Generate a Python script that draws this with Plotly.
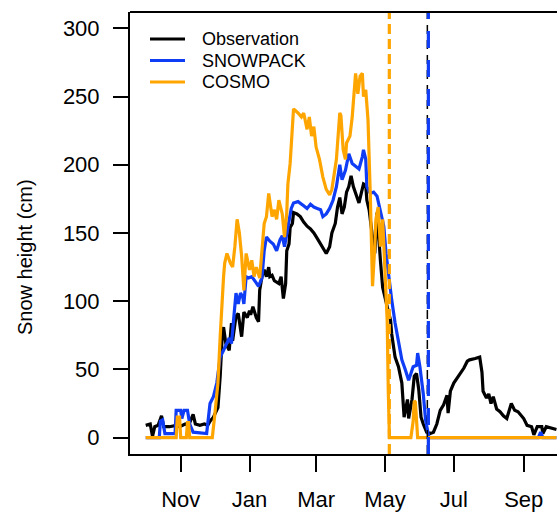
import datetime as dt
import plotly.graph_objects as go

# Hydrological year starting 1 October
season_start = dt.datetime(2017, 10, 1)

# Observed snow height (day of season, cm)
obs_day = [0, 4, 6, 8, 11, 14, 16, 21, 27, 30, 35, 38, 42, 44, 48, 52, 55, 57, 60, 62,
           64, 66, 68, 69, 71, 74, 76, 77, 80, 82, 84, 85, 87, 90, 92, 93, 95, 98, 100, 101,
           103, 105, 107, 109, 110, 112, 114, 116, 118, 120, 122, 124, 125, 127, 128, 130, 131, 134, 137, 140,
           143, 146, 149, 152, 155, 157, 160, 163, 165, 168, 170, 172, 174, 176, 178, 180, 182, 184, 186, 189,
           191, 193, 195, 196, 198, 200, 202, 203, 205, 208, 210, 214, 217, 218, 221, 224, 227, 229, 232, 233,
           236, 238, 240, 242, 244, 246, 249, 252, 255, 258, 261, 264, 267, 268, 270, 273, 277, 282, 285, 287,
           292, 296, 298, 299, 302, 304, 306, 308, 311, 314, 317, 320, 324, 327, 330, 335, 338, 342, 344, 347,
           351, 352, 355, 360, 363, 364]
obs_cm = [9, 10, 1, 8, 9, 16, 8, 8, 9, 8, 10, 9, 17, 10, 9, 10, 9, 12, 15, 18,
          22, 45, 78, 81, 69, 64, 84, 71, 89, 91, 79, 74, 92, 88, 93, 90, 96, 88, 85, 108,
          118, 123, 118, 125, 118, 119, 115, 114, 113, 118, 102, 113, 137, 142, 154, 157, 165, 164, 162, 158,
          155, 153, 150, 146, 142, 139, 135, 140, 150, 157, 169, 176, 164, 169, 180, 184, 192, 184, 179, 172,
          179, 186, 185, 174, 167, 152, 140, 135, 165, 130, 110, 96, 86, 76, 59, 52, 40, 15, 28, 14,
          28, 45, 47, 35, 15, 10, 4, 3, 4, 10, 20, 24, 31, 18, 34, 40, 45, 51, 56, 57,
          58, 59, 48, 34, 29, 32, 25, 30, 21, 19, 16, 14, 25, 20, 19, 14, 9, 8, 2, 8,
          8, 3, 8, 7, 6, 6]

# SNOWPACK simulation
snp_day = [0, 12, 13, 15, 17, 26, 27, 31, 32, 34, 37, 39, 42, 54, 57, 60, 63, 66, 69, 72,
           74, 76, 79, 80, 82, 84, 86, 87, 89, 91, 94, 97, 100, 103, 105, 107, 110, 113, 116, 119,
           121, 123, 126, 129, 131, 135, 140, 143, 146, 149, 152, 155, 157, 160, 163, 166, 169, 172, 174, 177,
           180, 183, 186, 189, 192, 193, 195, 196, 199, 202, 205, 208, 211, 213, 215, 218, 221, 224, 227, 230,
           233, 235, 237, 240, 241, 243, 246, 248, 250, 251, 348, 349, 350, 352, 364]
snp_cm = [0, 0, 12, 13, 3, 3, 20, 20, 14, 20, 20, 10, 4, 3, 25, 30, 40, 59, 64, 69,
          73, 69, 101, 106, 98, 106, 103, 98, 118, 117, 118, 114, 111, 117, 137, 147, 144, 142, 137, 145,
          148, 140, 155, 168, 172, 173, 170, 168, 171, 169, 168, 167, 162, 164, 168, 174, 184, 200, 189, 196,
          208, 201, 199, 197, 206, 211, 204, 184, 179, 180, 177, 167, 155, 135, 120, 101, 84, 69, 57, 50,
          42, 47, 52, 53, 62, 52, 32, 13, 2, 0, 0, 3, 4, 0, 0]

# COSMO simulation
cos_day = [0, 27, 28, 30, 31, 36, 37, 38, 39, 59, 61, 64, 66, 67, 69, 70, 72, 75, 77, 79,
           81, 83, 85, 87, 89, 92, 94, 96, 98, 101, 103, 105, 107, 109, 112, 114, 116, 118, 121, 123,
           125, 126, 128, 130, 131, 135, 138, 140, 143, 145, 147, 149, 151, 154, 157, 160, 163, 165, 167, 169,
           172, 173, 175, 177, 178, 181, 183, 185, 186, 188, 190, 192, 193, 195, 197, 199, 200, 201, 203, 204,
           206, 207, 208, 210, 211, 213, 214, 215, 216, 235, 237, 238, 239, 241, 364]
cos_cm = [0, 0, 15, 15, 0, 0, 11, 11, 0, 0, 15, 40, 74, 93, 118, 128, 135, 128, 125, 140,
          160, 150, 133, 108, 135, 123, 130, 118, 125, 117, 140, 157, 162, 179, 162, 167, 160, 174, 164, 147,
          165, 186, 201, 225, 241, 238, 235, 238, 226, 235, 221, 228, 213, 204, 191, 182, 178, 182, 194, 204,
          238, 236, 211, 204, 216, 221, 235, 262, 267, 252, 265, 267, 250, 255, 233, 179, 142, 111, 140, 160,
          169, 147, 140, 160, 140, 111, 86, 33, 0, 0, 12, 27, 26, 0, 0]

# Snow melt-out days (day of season)
meltout_obs = 249.6
meltout_snp = 250.5
meltout_cos = 215.9

month_ticks = ["2017-11-01", "2018-01-01", "2018-03-01", "2018-05-01", "2018-07-01", "2018-09-01"]
month_labels = ["Nov", "Jan", "Mar", "May", "Jul", "Sep"]
y_ticks = [0, 50, 100, 150, 200, 250, 300]

BLACK = "#000000"
BLUE = "#0f3cf5"
ORANGE = "#ffa500"
FONT = "Liberation Sans, Arial, sans-serif"


def to_date(day):
    return season_start + dt.timedelta(days=day)


fig = go.Figure()

series = [
    ("Observation", obs_day, obs_cm, BLACK),
    ("SNOWPACK", snp_day, snp_cm, BLUE),
    ("COSMO", cos_day, cos_cm, ORANGE),
]
for name, days, cm, col in series:
    fig.add_trace(go.Scatter(
        x=[to_date(d) for d in days], y=cm, mode="lines", name=name,
        line=dict(color=col, width=3.2), showlegend=False,
    ))

y_lo, y_hi = -12, 312

# melt-out markers, drawn bottom to top across the whole panel
for day, col, width, dash in [
    (meltout_obs, BLACK, 1.5, "9px,6px"),
    (meltout_snp, BLUE, 3.2, "17px,12px"),
    (meltout_cos, ORANGE, 3.2, "10px,5px"),
]:
    fig.add_trace(go.Scatter(
        x=[to_date(day), to_date(day)], y=[y_lo, y_hi], mode="lines",
        line=dict(color=col, width=width, dash=dash), showlegend=False,
        hoverinfo="skip",
    ))

W, H = 557, 512
L, R, T, B = 130, 0, 12, 58
pw, ph = W - L - R, H - T - B


def px_x(x):
    return (x - L) / pw


def px_y(y):
    return (H - B - y) / ph


# legend drawn inside the panel
shapes = []
annotations = []
for i, (name, _, _, col) in enumerate(series):
    yy = 39 + i * 21.5
    shapes.append(dict(type="line", xref="paper", yref="paper",
                       x0=px_x(150), x1=px_x(185), y0=px_y(yy), y1=px_y(yy),
                       line=dict(color=col, width=3.2)))
    annotations.append(dict(text=name, xref="paper", yref="paper",
                            x=px_x(200), y=px_y(yy), xanchor="left", yanchor="middle",
                            showarrow=False, font=dict(size=18, color=BLACK, family=FONT)))

# top frame edge
shapes.append(dict(type="line", xref="paper", yref="paper", x0=0, x1=1, y0=1, y1=1,
                   line=dict(color=BLACK, width=2)))

annotations.append(dict(text="Snow height (cm)", xref="paper", yref="paper",
                        x=px_x(25), y=px_y(257), textangle=-90,
                        xanchor="center", yanchor="middle", showarrow=False,
                        font=dict(size=20, color=BLACK, family=FONT)))

fig.update_layout(
    width=W, height=H,
    margin=dict(l=L, r=R, t=T, b=B, pad=0),
    paper_bgcolor="white", plot_bgcolor="white",
    font=dict(family=FONT, color=BLACK),
    shapes=shapes, annotations=annotations,
    showlegend=False,
)
fig.update_xaxes(
    range=[to_date(-13.93), to_date(364.5)],
    tickvals=month_ticks, ticktext=month_labels,
    ticks="outside", ticklen=16, tickwidth=2, tickcolor=BLACK,
    showline=True, linewidth=2, linecolor=BLACK,
    showgrid=False, zeroline=False, automargin=False,
    tickfont=dict(size=22, family=FONT, color=BLACK),
    ticklabelstandoff=9,
)
fig.update_yaxes(
    range=[y_lo, y_hi],
    tickvals=y_ticks,
    ticks="outside", ticklen=15, tickwidth=2, tickcolor=BLACK,
    showline=True, linewidth=2, linecolor=BLACK,
    showgrid=False, zeroline=False, automargin=False,
    tickfont=dict(size=22, family=FONT, color=BLACK),
    ticklabelstandoff=9,
)

fig.write_html("out.html")
